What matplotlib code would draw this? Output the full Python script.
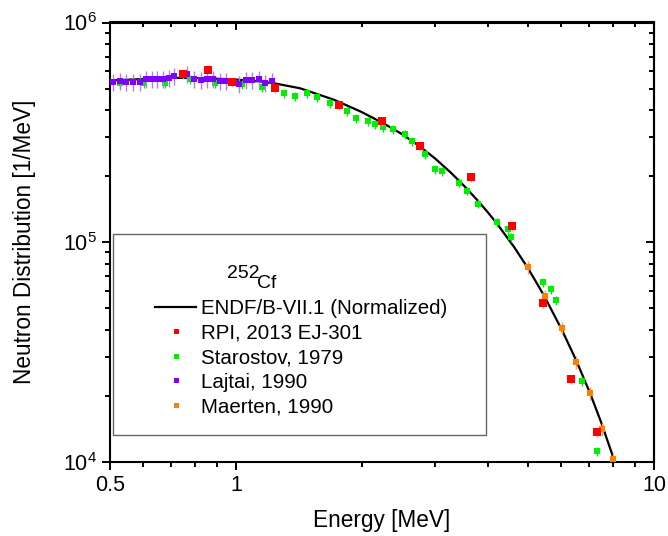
import matplotlib
matplotlib.use('Agg')
import matplotlib.pyplot as plt
import numpy as np
from matplotlib.lines import Line2D
from matplotlib.patches import Rectangle
from matplotlib.ticker import FixedLocator, FixedFormatter, NullFormatter, LogLocator

plt.rcParams['font.family'] = ['Liberation Sans', 'DejaVu Sans']
plt.rcParams['mathtext.fontset'] = 'custom'
plt.rcParams['mathtext.rm'] = 'Liberation Sans'
plt.rcParams['mathtext.it'] = 'Liberation Sans:italic'
plt.rcParams['mathtext.bf'] = 'Liberation Sans:bold'

# ---------------- data ----------------
endf_e = [0.5, 0.59, 0.707, 0.844, 1.0, 1.143, 1.24, 1.424, 1.717, 1.99, 2.24, 2.5,
          2.76, 3.0, 3.27, 3.52, 3.77, 4.0, 4.21, 4.63, 5.0, 5.46, 6.03, 6.51, 7.03,
          7.47, 7.98, 8.06]
endf_y = [5.45e5, 5.52e5, 5.60e5, 5.58e5, 5.50e5, 5.39e5, 5.28e5, 5.02e5, 4.45e5, 3.93e5, 3.50e5, 3.10e5,
          2.72e5, 2.40e5, 2.07e5, 1.80e5, 1.563e5, 1.372e5, 1.217e5, 9.5e4, 7.6e4, 5.71e4, 3.97e4, 2.91e4, 2.06e4,
          1.52e4, 1.057e4, 1.0e4]

rpi_e = [0.748, 0.858, 0.979, 1.24, 1.765, 2.24, 2.76, 3.65, 4.58, 5.43, 6.33, 7.31]
rpi_y = [5.80e5, 6.11e5, 5.34e5, 5.01e5, 4.20e5, 3.55e5, 2.73e5, 1.975e5, 1.18e5, 5.28e4, 2.38e4, 1.37e4]
rpi_rel = 0.05

star_e = [0.528, 0.603, 0.677, 0.777, 0.892, 1.035, 1.155, 1.304, 1.385, 1.48, 1.564, 1.679,
          1.844, 1.938, 2.07, 2.152, 2.249, 2.376, 2.539, 2.638, 2.833, 2.993, 3.112, 3.417,
          3.571, 3.795, 4.21, 4.476, 4.551, 5.43, 5.67, 5.83, 6.73, 7.31]
star_y = [5.28e5, 5.28e5, 5.28e5, 5.51e5, 5.28e5, 5.23e5, 5.07e5, 4.76e5, 4.61e5, 4.76e5, 4.56e5, 4.28e5,
          3.94e5, 3.66e5, 3.55e5, 3.44e5, 3.33e5, 3.26e5, 3.10e5, 2.88e5, 2.51e5, 2.15e5, 2.10e5, 1.87e5,
          1.71e5, 1.50e5, 1.23e5, 1.146e5, 1.054e5, 6.58e4, 6.11e4, 5.45e4, 2.33e4, 1.12e4]
star_rel = 0.045

laj_e = [0.508, 0.528, 0.546, 0.568, 0.590, 0.610, 0.630, 0.648, 0.669, 0.692, 0.711, 0.764,
         0.794, 0.826, 0.853, 0.882, 0.917, 0.947, 1.017, 1.058, 1.093, 1.136, 1.174, 1.22]
laj_y = [5.34e5, 5.39e5, 5.34e5, 5.34e5, 5.34e5, 5.51e5, 5.51e5, 5.51e5, 5.51e5, 5.57e5, 5.68e5, 5.80e5,
         5.51e5, 5.45e5, 5.51e5, 5.51e5, 5.39e5, 5.39e5, 5.23e5, 5.45e5, 5.45e5, 5.51e5, 5.28e5, 5.39e5]
laj_rel = 0.09

maer_e = [5.0, 5.49, 6.03, 6.51, 7.03, 7.51, 7.98]
maer_y = [7.70e4, 5.68e4, 4.07e4, 2.85e4, 2.06e4, 1.41e4, 1.03e4]
maer_rel = 0.07

xtick_vals = [0.5, 1, 10]
xtick_labels = ['0.5', '1', '10']
xminor_vals = [0.6, 0.7, 0.8, 0.9, 2, 3, 4, 5, 6, 7, 8, 9]

labels = ['ENDF/B-VII.1 (Normalized)', 'RPI, 2013 EJ-301', 'Starostov, 1979',
          'Lajtai, 1990', 'Maerten, 1990']

# ---------------- colors ----------------
c_red, c_red_err = '#FF0000', '#F7A27A'
c_green = '#00EE00'
c_purple, c_purple_err = '#7F00FF', '#B27CF5'
c_orange, c_orange_err = '#FF7F00', '#FF9F4A'

# ---------------- figure ----------------
fig = plt.figure(figsize=(6.68, 5.36), dpi=100)
ax = fig.add_axes([110/668, 74/536, 544/668, 439.5/536])
ax.set_xscale('log')
ax.set_yscale('log')

ax.plot(endf_e, endf_y, color='black', lw=1.6, zorder=2, solid_joinstyle='round')

def eb(e, y, rel, c, ce, ms, z):
    y = np.asarray(y)
    ax.errorbar(e, y, yerr=y * rel, fmt='s', ms=ms, mfc=c, mec=c, mew=0,
                ecolor=ce, elinewidth=1.0, capsize=3.8, capthick=1.0, zorder=z)

eb(star_e, star_y, star_rel, c_green, c_green, 4.3, 3)
eb(laj_e, laj_y, laj_rel, c_purple, c_purple_err, 4.5, 4)
eb(maer_e, maer_y, maer_rel, c_orange, c_orange_err, 4.3, 5)
eb(rpi_e, rpi_y, rpi_rel, c_red, c_red_err, 5.8, 6)

ax.set_xlim(0.5, 10)
ax.set_ylim(1e4, 1e6)

ax.xaxis.set_major_locator(FixedLocator(xtick_vals))
ax.xaxis.set_major_formatter(FixedFormatter(xtick_labels))
ax.xaxis.set_minor_locator(FixedLocator(xminor_vals))
ax.xaxis.set_minor_formatter(NullFormatter())
ax.yaxis.set_major_locator(LogLocator(base=10, numticks=10))
ax.yaxis.set_minor_locator(LogLocator(base=10, subs=np.arange(2, 10), numticks=10))
ax.yaxis.set_minor_formatter(NullFormatter())

ax.tick_params(which='both', direction='out', width=1.4, labelsize=15.5, top=False, right=False)
ax.tick_params(which='major', length=6)
ax.tick_params(which='minor', length=3.8)
for s in ax.spines.values():
    s.set_linewidth(1.5)

secx = ax.secondary_xaxis('top', functions=(lambda x: x, lambda x: x))
secx.xaxis.set_major_locator(FixedLocator(xtick_vals))
secx.xaxis.set_minor_locator(FixedLocator(xminor_vals))
secx.tick_params(which='both', direction='in', width=1.4, labeltop=False)
secx.tick_params(which='major', length=6)
secx.tick_params(which='minor', length=3.8)
secx.spines['top'].set_linewidth(1.5)

secy = ax.secondary_yaxis('right', functions=(lambda y: y, lambda y: y))
secy.yaxis.set_major_locator(LogLocator(base=10, numticks=10))
secy.yaxis.set_minor_locator(LogLocator(base=10, subs=np.arange(2, 10), numticks=10))
secy.tick_params(which='both', direction='in', width=1.4, labelright=False)
secy.tick_params(which='major', length=6)
secy.tick_params(which='minor', length=3.8)
secy.spines['right'].set_linewidth(1.5)

ax.set_xlabel('Energy [MeV]', fontsize=16.3, labelpad=9)
ax.set_ylabel('Neutron Distribution [1/MeV]', fontsize=16.3, labelpad=19)

# ---------------- legend ----------------
def axx(px):
    return (px - 110) / 544
def axy(py):
    return (462 - py) / 439.5

ax.add_patch(Rectangle((axx(113), axy(435)), axx(486) - axx(113), axy(234) - axy(435),
                       transform=ax.transAxes, facecolor='white', edgecolor='#666666',
                       lw=1.0, zorder=7))

handles = [Line2D([], [], color='black', lw=1.6),
           Line2D([], [], ls='none', marker='s', ms=3.6, mfc=c_red, mec=c_red, mew=0),
           Line2D([], [], ls='none', marker='s', ms=3.6, mfc=c_green, mec=c_green, mew=0),
           Line2D([], [], ls='none', marker='s', ms=3.6, mfc=c_purple, mec=c_purple, mew=0),
           Line2D([], [], ls='none', marker='s', ms=3.6, mfc=c_orange, mec=c_orange, mew=0)]
leg = ax.legend(handles, labels, loc='upper left', bbox_to_anchor=(axx(155), axy(299)),
                frameon=False, borderpad=0, borderaxespad=0, handlelength=2.0,
                handletextpad=0.25, labelspacing=0.27, fontsize=14.8)
leg.set_zorder(8)

ax.text(axx(227), axy(278), '252', transform=ax.transAxes, fontsize=14, va='baseline', ha='left', zorder=9)
ax.text(axx(257), axy(288), 'Cf', transform=ax.transAxes, fontsize=14, va='baseline', ha='left', zorder=9)

fig.savefig('out.png', dpi=100)
